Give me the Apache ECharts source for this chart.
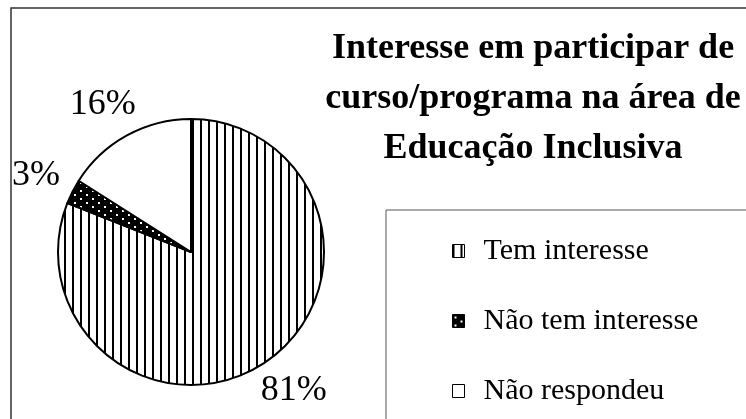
<!DOCTYPE html>
<html>
<head>
<meta charset="utf-8">
<script src="https://cdn.jsdelivr.net/npm/echarts@6/dist/echarts.min.js"></script>
<style>
  html, body { margin: 0; padding: 0; background: #fff; }
  #chart { width: 746px; height: 419px; }
</style>
</head>
<body>
<div id="chart"></div>
<script>
// dados do gráfico
var categorias = ['Tem interesse', 'Não tem interesse', 'Não respondeu'];
var percentuais = [81, 3, 16];
var titulo = 'Interesse em participar de\ncurso/programa na área de\nEducação Inclusiva';

// padrões de preenchimento (listras verticais, preto pontilhado, branco)
function listras() {
  var c = document.createElement('canvas');
  c.width = 8; c.height = 8;
  var ctx = c.getContext('2d');
  ctx.fillStyle = '#fff';
  ctx.fillRect(0, 0, 8, 8);
  ctx.fillStyle = '#000';
  ctx.fillRect(0, 0, 2, 8);
  return c;
}
function pontilhado() {
  var c = document.createElement('canvas');
  c.width = 12; c.height = 8;
  var ctx = c.getContext('2d');
  ctx.fillStyle = '#000';
  ctx.fillRect(0, 0, 12, 8);
  ctx.fillStyle = '#fff';
  ctx.fillRect(2, 2, 2, 2);
  ctx.fillRect(8, 6, 2, 2);
  return c;
}
var preenchimentos = [
  { image: listras(), repeat: 'repeat' },
  { image: pontilhado(), repeat: 'repeat' },
  '#fff'
];

var chart = echarts.init(document.getElementById('chart'));

chart.setOption({
  backgroundColor: '#fff',
  animation: false,
  title: {
    text: titulo,
    left: 528,
    top: 19,
    textAlign: 'center',
    textStyle: {
      fontFamily: 'Liberation Serif',
      fontWeight: 'bold',
      fontSize: 36,
      lineHeight: 50,
      color: '#000'
    }
  },
  legend: {
    orient: 'vertical',
    left: 447,
    top: 230,
    itemGap: 38,
    itemWidth: 12,
    itemHeight: 13,
    icon: 'rect',
    data: categorias,
    itemStyle: { borderColor: '#000', borderWidth: 1 },
    textStyle: {
      fontFamily: 'Liberation Serif',
      fontSize: 30,
      lineHeight: 32,
      color: '#000',
      padding: [0, 0, 0, 14]
    }
  },
  graphic: [
    {
      type: 'rect',
      shape: { x: 11, y: 8, width: 760, height: 430 },
      style: { fill: 'none', stroke: '#333', lineWidth: 1.5 },
      z: -1
    },
    {
      type: 'rect',
      shape: { x: 386, y: 210, width: 380, height: 230 },
      style: { fill: 'none', stroke: '#555', lineWidth: 1 },
      z: -1
    }
  ],
  series: [
    {
      type: 'pie',
      center: [191, 252],
      radius: 133,
      startAngle: 90,
      clockwise: true,
      itemStyle: { borderColor: '#000', borderWidth: 2 },
      label: {
        show: true,
        position: 'outside',
        formatter: '{c}%',
        fontFamily: 'Liberation Serif',
        fontSize: 36,
        color: '#000',
        overflow: 'none'
      },
      // linha invisível, só para ter o ponto de ancoragem do rótulo
      labelLine: { show: true, length: 17, length2: 0, lineStyle: { opacity: 0 } },
      labelLayout: function (p) {
        var pts = p.labelLinePoints;
        if (!pts) return {};
        var dx = pts[1][0] - pts[0][0], dy = pts[1][1] - pts[0][1];
        var n = Math.sqrt(dx * dx + dy * dy) || 1;
        return {
          x: pts[1][0] + dx / n * p.labelRect.width / 2,
          y: pts[1][1] + dy / n * p.labelRect.height / 2,
          align: 'center',
          verticalAlign: 'middle'
        };
      },
      data: categorias.map(function (nome, i) {
        return { name: nome, value: percentuais[i], itemStyle: { color: preenchimentos[i] } };
      })
    }
  ]
});
</script>
</body>
</html>
